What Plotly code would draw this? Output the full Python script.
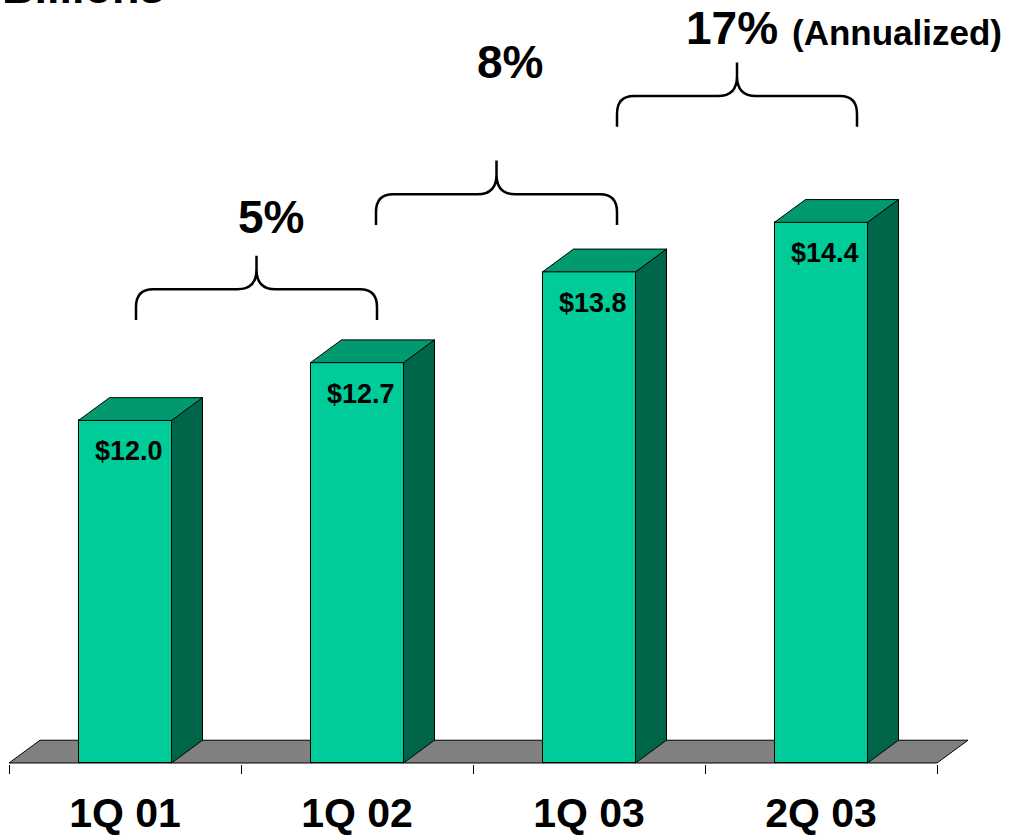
import plotly.graph_objects as go

# Balances by quarter ($ billions)
quarters = ["1Q 01", "1Q 02", "1Q 03", "2Q 03"]
balances = [12.0, 12.7, 13.8, 14.4]
growth_labels = ["5%", "8%", "17%"]
growth_note = "(Annualized)"
unit_label = "Billions"

# ---- canvas / scale setup -------------------------------------------------
W, H = 1017, 836
ML, MB = 9, 65
PLOT_W, PLOT_H = W - ML, H - MB
PX_X = 232.0          # pixels per category
PX_Y = 83.3           # pixels per $1B
FLOOR = 7.85          # value at the front edge of the floor

y_lo = FLOOR - 1 / PX_Y
y_hi = y_lo + PLOT_H / PX_Y
x_lo = -0.5
x_hi = x_lo + PLOT_W / PX_X

DX = 31 / PX_X        # 3-D depth offset (x)
DY = 23 / PX_Y        # 3-D depth offset (y)
HALF = 46.5 / PX_X    # half bar width

FONT = "Liberation Sans, Arial, sans-serif"
FRONT = "#00CC99"
TOP = "#009970"
SIDE = "#00664A"
FLOOR_FILL = "#808080"


def to_data(xp, yp):
    """Pixel position on the canvas -> data coordinates."""
    return x_lo + (xp - ML) / PX_X, y_lo + (PLOT_H - yp) / PX_Y


def dx_px(p):
    return p / PX_X


def dy_px(p):
    return p / PX_Y


fig = go.Figure()

# front faces
fig.add_trace(go.Bar(
    x=list(range(len(quarters))),
    y=[v - FLOOR for v in balances],
    base=FLOOR,
    width=2 * HALF,
    marker=dict(color=FRONT, line=dict(color="black", width=1)),
    hoverinfo="skip",
    showlegend=False,
))

# side and top faces
for i, v in enumerate(balances):
    xr = i + HALF
    xl = i - HALF
    fig.add_trace(go.Scatter(
        x=[xr, xr, xr + DX, xr + DX, xr],
        y=[FLOOR, v, v + DY, FLOOR + DY, FLOOR],
        mode="lines", fill="toself", fillcolor=SIDE,
        line=dict(color="black", width=1),
        hoverinfo="skip", showlegend=False,
    ))
    fig.add_trace(go.Scatter(
        x=[xl, xr, xr + DX, xl + DX, xl],
        y=[v, v, v + DY, v + DY, v],
        mode="lines", fill="toself", fillcolor=TOP,
        line=dict(color="black", width=1),
        hoverinfo="skip", showlegend=False,
    ))

# helper trace that carries the category label axis
fig.add_trace(go.Scatter(
    x=list(range(len(quarters))), y=[FLOOR] * len(quarters),
    mode="none", xaxis="x2", yaxis="y",
    hoverinfo="skip", showlegend=False,
))

shapes = []

# floor
fx0, fx1 = -0.5, len(quarters) - 0.5
shapes.append(dict(
    type="path", xref="x", yref="y", layer="below",
    path=(f"M {fx0},{FLOOR} L {fx1},{FLOOR} L {fx1 + DX},{FLOOR + DY} "
          f"L {fx0 + DX},{FLOOR + DY} Z"),
    fillcolor=FLOOR_FILL, line=dict(color="black", width=1),
))


def brace_path(left_px, right_px, bottom_px):
    xl, yb = to_data(left_px, bottom_px)
    xr, _ = to_data(right_px, bottom_px)
    cx = (xl + xr) / 2
    ym = yb + dy_px(31)
    yt = yb + dy_px(65)
    rx, ry = dx_px(17), dy_px(18)
    cr, cy = dx_px(19), dy_px(20)
    return (f"M {xl},{yb} L {xl},{ym - ry} Q {xl},{ym} {xl + rx},{ym} "
            f"L {cx - cr},{ym} Q {cx},{ym} {cx},{ym + cy} L {cx},{yt} "
            f"L {cx},{ym + cy} Q {cx},{ym} {cx + cr},{ym} "
            f"L {xr - rx},{ym} Q {xr},{ym} {xr},{ym - ry} L {xr},{yb}")


brace_spans = [(136, 377, 323), (376, 617, 227), (617, 857, 128)]
for l, r, b in brace_spans:
    shapes.append(dict(
        type="path", xref="x", yref="y", layer="above",
        path=brace_path(l, r, b),
        line=dict(color="black", width=2.5),
    ))

annotations = []

# value labels on the bar faces
for i, v in enumerate(balances):
    annotations.append(dict(
        x=i + dx_px(4), y=v, xref="x", yref="y",
        yshift=-31, yanchor="middle", xanchor="center",
        text=f"<b>${v:.1f}</b>", showarrow=False,
        font=dict(family=FONT, size=27, color="black"),
    ))

# growth labels over the braces
growth_pos = [(271, 219), (510, 63), (732, 28)]
for lab, (px, py) in zip(growth_labels, growth_pos):
    gx, gy = to_data(px, py)
    annotations.append(dict(
        x=gx, y=gy, xref="x", yref="y", xanchor="center", yanchor="middle",
        text=f"<b>{lab}</b>", showarrow=False,
        font=dict(family=FONT, size=46, color="black"),
    ))
nx, ny = to_data(790, 33)
annotations.append(dict(
    x=nx, y=ny, xref="x", yref="y", xanchor="left", yanchor="middle",
    text=f"<b>{growth_note}</b>", showarrow=False,
    font=dict(family=FONT, size=35, color="black"),
))

# units caption at the top-left corner
annotations.append(dict(
    x=0, y=1 + 14 / H, xref="paper", yref="paper", xanchor="left",
    yanchor="middle", xshift=-ML, text=f"<b>{unit_label}</b>",
    showarrow=False, font=dict(family=FONT, size=45, color="black"),
))

fig.update_layout(
    width=W, height=H,
    margin=dict(l=ML, r=0, t=0, b=MB, pad=0),
    paper_bgcolor="white", plot_bgcolor="white",
    bargap=0,
    shapes=shapes, annotations=annotations,
    xaxis=dict(
        range=[x_lo, x_hi], showgrid=False, zeroline=False, showline=False,
        tickmode="array",
        tickvals=[k - 0.5 for k in range(len(quarters) + 1)],
        showticklabels=False, ticks="outside", ticklen=9, tickwidth=1,
        tickcolor="black",
    ),
    xaxis2=dict(
        overlaying="x", anchor="y", side="bottom",
        range=[x_lo, x_hi], showgrid=False, zeroline=False, showline=False,
        tickmode="array", tickvals=list(range(len(quarters))),
        ticktext=[f"<b>{q}</b>" for q in quarters],
        ticks="outside", ticklen=13, tickcolor="rgba(0,0,0,0)",
        tickfont=dict(family=FONT, size=41, color="black"),
    ),
    yaxis=dict(range=[y_lo, y_hi], visible=False),
    showlegend=False,
)

fig.write_html("out.html")
